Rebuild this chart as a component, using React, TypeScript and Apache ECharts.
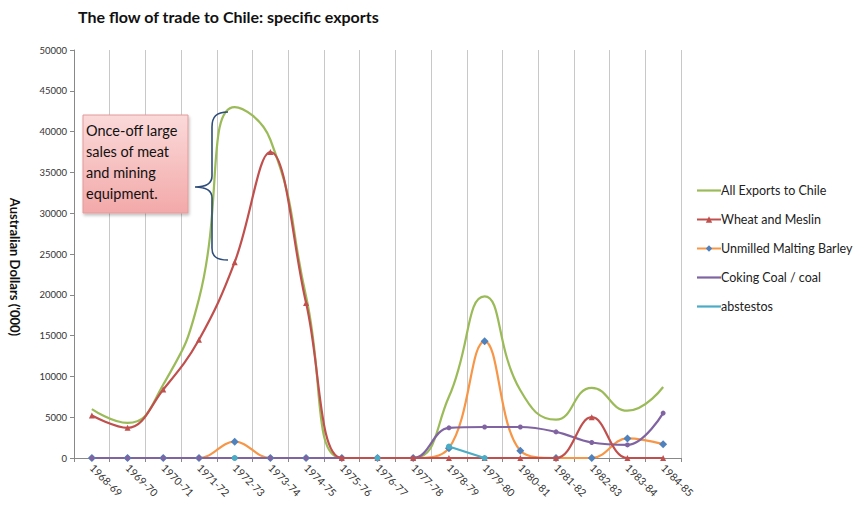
import React, { useEffect, useRef } from "react";
import * as echarts from "echarts";

const categories = [
  "1968-69", "1969-70", "1970-71", "1971-72", "1972-73", "1973-74", "1974-75", "1975-76",
  "1976-77", "1977-78", "1978-79", "1979-80", "1980-81", "1981-82", "1982-83", "1983-84", "1984-85",
];
const allExports = [6000, 4300, 9000, 19500, 43000, 39000, 19800, 0, 0, 0, 7500, 19800, 8300, 4700, 8600, 5800, 8700];
const wheat = [5200, 3700, 8400, 14500, 24000, 37500, 19000, 0, 0, 0, 0, 0, 0, 0, 5000, 0, 0];
const barley = [0, 0, 0, 0, 2000, 0, 0, 0, 0, 0, 1200, 14300, 900, 0, 0, 2400, 1700];
const coal = [0, 0, 0, 0, 0, 0, 0, 0, 0, 0, 3700, 3800, 3800, 3200, 1900, 1600, 5500];
const asbestos: (number | null)[] = [null, null, null, null, 0, null, null, null, 0, null, 1400, 0, null, null, null, null, null];

const seriesNames = [
  "All Exports to Chile",
  "Wheat and Meslin",
  "Unmilled Malting Barley",
  "Coking Coal / coal",
  "abstestos",
];

const BRACE =
  "M228,112 C216,112 212,117 212,127 L212,176 C212,183 206,187 195,187 C206,187 212,191 212,198 L212,248 C212,256 216,260 228,260";
echarts.graphic.registerShape("brace", echarts.graphic.extendPath(BRACE, {}));

const FONT = "Lato, 'Open Sans', sans-serif";
const LINE_ICON = "path://M0,0 L24,0 L24,2.2 L0,2.2 Z";

export default function App() {
  const ref = useRef<HTMLDivElement>(null);
  useEffect(() => {
    if (!ref.current) return;
    const chart = echarts.init(ref.current, undefined, { renderer: "svg" });
    chart.setOption({
      animation: false,
      backgroundColor: "#ffffff",
      textStyle: { fontFamily: FONT },
      grid: { left: 74, right: 186, top: 50, bottom: 49 },
      legend: {
        orient: "vertical",
        left: 691,
        top: 179,
        itemWidth: 24,
        itemHeight: 8,
        itemGap: 16,
        data: [
          { name: seriesNames[0], icon: LINE_ICON },
          { name: seriesNames[1] },
          { name: seriesNames[2] },
          { name: seriesNames[3], icon: LINE_ICON },
          { name: seriesNames[4], icon: LINE_ICON },
        ],
        textStyle: { fontSize: 12.5, color: "#222", fontFamily: FONT, padding: [0, 0, 0, -5] },
      },
      xAxis: {
        type: "category",
        data: categories,
        boundaryGap: true,
        axisLine: { show: true, lineStyle: { color: "#888", width: 1.2 } },
        axisTick: { show: true, interval: 0, length: 4, lineStyle: { color: "#888" } },
        splitLine: { show: true, interval: 0, lineStyle: { color: "#c8c8c8", width: 1 } },
        axisLabel: { interval: 0, rotate: -45, fontSize: 10.5, color: "#333", margin: 8, fontFamily: FONT },
      },
      yAxis: {
        type: "value",
        min: 0,
        max: 50000,
        interval: 5000,
        axisLine: { show: true, lineStyle: { color: "#888" } },
        axisTick: { show: true, length: 4, lineStyle: { color: "#888" } },
        splitLine: { show: false },
        axisLabel: {
          fontSize: 9.5,
          color: "#333",
          margin: 7,
          fontFamily: FONT,
          formatter: (v: number) => String(v),
        },
      },
      series: [
        {
          name: seriesNames[0],
          type: "line",
          data: allExports,
          smooth: 0.5,
          symbol: "none",
          lineStyle: { color: "#9BBB59", width: 2.2 },
          itemStyle: { color: "#9BBB59" },
          z: 2,
        },
        {
          name: seriesNames[1],
          type: "line",
          data: wheat,
          smooth: 0.4,
          symbol: "triangle",
          symbolSize: 6,
          lineStyle: { color: "#C0504D", width: 2.2 },
          itemStyle: { color: "#C0504D" },
          z: 4,
        },
        {
          name: seriesNames[2],
          type: "line",
          data: barley,
          smooth: 0.4,
          symbol: "diamond",
          symbolSize: 8,
          lineStyle: { color: "#F79646", width: 2.2 },
          itemStyle: { color: "#4F81BD" },
          z: 3,
        },
        {
          name: seriesNames[3],
          type: "line",
          data: coal,
          smooth: 0.4,
          symbol: "circle",
          symbolSize: 5,
          lineStyle: { color: "#8064A2", width: 2.2 },
          itemStyle: { color: "#8064A2" },
          z: 3,
        },
        {
          name: seriesNames[4],
          type: "line",
          data: asbestos,
          smooth: 0.4,
          symbol: "circle",
          symbolSize: 6,
          connectNulls: false,
          lineStyle: { color: "#4BACC6", width: 2.2 },
          itemStyle: { color: "#4BACC6" },
          z: 5,
        },
      ],
      graphic: [
        {
          type: "text",
          left: 78,
          top: 8,
          style: {
            text: "The flow of trade to Chile: specific exports",
            fontSize: 16,
            fontWeight: "bold",
            fill: "#111",
            fontFamily: FONT,
          },
        },
        {
          type: "text",
          x: 15,
          y: 267,
          rotation: -Math.PI / 2,
          style: {
            text: "Australian Dollars ('000)",
            fontSize: 13,
            fontWeight: "bold",
            fill: "#111",
            align: "center",
            verticalAlign: "middle",
            fontFamily: FONT,
          },
        },
        {
          type: "rect",
          shape: { x: 83, y: 115, width: 105, height: 98 },
          style: {
            fill: new echarts.graphic.LinearGradient(0, 0, 0, 1, [
              { offset: 0, color: "#fbdada" },
              { offset: 1, color: "#f3a9a9" },
            ]),
            stroke: "#e39a9a",
            lineWidth: 1,
            shadowBlur: 3,
            shadowOffsetX: 1,
            shadowOffsetY: 2,
            shadowColor: "rgba(0,0,0,0.25)",
          },
          z: 10,
        },
        {
          type: "text",
          x: 86,
          y: 120,
          style: {
            text: "Once-off large\nsales of meat\nand mining\nequipment.",
            fontSize: 14.5,
            lineHeight: 21,
            fill: "#111",
            fontFamily: FONT,
          },
          z: 11,
        },
        {
          type: "brace",
          x: 0,
          y: 0,
          style: { fill: "none", stroke: "#2E4D7B", lineWidth: 1.6 },
          z: 10,
        },
      ],
    });
    return () => chart.dispose();
  }, []);
  return <div ref={ref} style={{ position: "absolute", left: 0, top: 0, width: 867, height: 507 }} />;
}
